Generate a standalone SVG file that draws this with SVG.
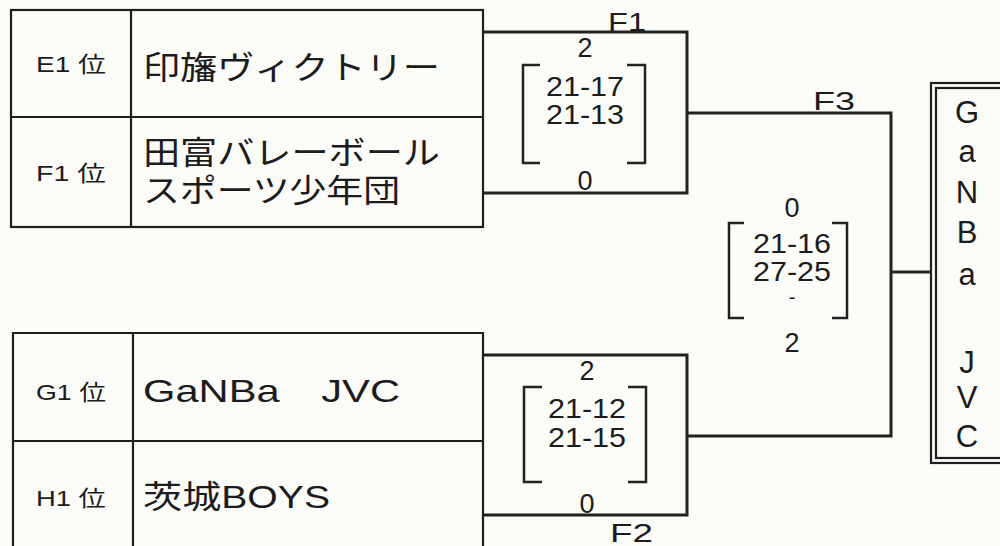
<svg xmlns="http://www.w3.org/2000/svg" width="1000" height="546" viewBox="0 0 1000 546">
<style>
.bg{fill:#fbfbf8}
.tb{fill:none;stroke:#1e1e1e;stroke-width:2.2}
.ln{fill:none;stroke:#1e2420;stroke-width:3}
.br{fill:none;stroke:#222;stroke-width:2.5}
text{font-family:"Liberation Sans","Noto Sans CJK JP",sans-serif;fill:#1c1c1c}
.rk{font-size:22px}
.tm{font-size:32px}
.sc{font-size:27px;text-anchor:middle}
.dash{font-size:20px;text-anchor:middle}
.lb{font-size:26px}
.wn{font-size:31px;text-anchor:middle}
</style>
<rect class="bg" x="0" y="0" width="1000" height="546"/>
<g id="table-top">
<rect class="tb" x="11" y="10" width="472" height="217"/>
<line class="tb" x1="11" y1="117" x2="483" y2="117"/>
<line class="tb" x1="131" y1="10" x2="131" y2="227"/>
<text class="rk" x="36" y="72" textLength="70" lengthAdjust="spacingAndGlyphs">E1 位</text>
<text class="tm" x="143" y="79" textLength="297" lengthAdjust="spacingAndGlyphs">印旛ヴィクトリー</text>
<text class="rk" x="36" y="181" textLength="70" lengthAdjust="spacingAndGlyphs">F1 位</text>
<text class="tm" x="143" y="164" textLength="297" lengthAdjust="spacingAndGlyphs">田富バレーボール</text>
<text class="tm" x="143" y="202" textLength="257" lengthAdjust="spacingAndGlyphs">スポーツ少年団</text>
</g>
<g id="table-bottom">
<path class="tb" d="M13 546 V333 H483 V546"/>
<line class="tb" x1="13" y1="441" x2="483" y2="441"/>
<line class="tb" x1="133" y1="333" x2="133" y2="546"/>
<text class="rk" x="36" y="400" textLength="70" lengthAdjust="spacingAndGlyphs">G1 位</text>
<text class="tm" x="143" y="402" textLength="257" lengthAdjust="spacingAndGlyphs">GaNBa　JVC</text>
<text class="rk" x="36" y="506" textLength="70" lengthAdjust="spacingAndGlyphs">H1 位</text>
<text class="tm" x="143" y="508" textLength="187" lengthAdjust="spacingAndGlyphs">茨城BOYS</text>
</g>
<g id="connectors">
<path class="ln" d="M483 32 H687 V193 H483"/>
<path class="ln" d="M483 355 H687 V515 H483"/>
<path class="ln" d="M687 113 H891 V436 H687"/>
<path class="ln" d="M891 272 H931"/>
</g>
<g id="match-f1">
<text class="lb" x="608" y="31" textLength="38" lengthAdjust="spacingAndGlyphs">F1</text>
<text class="sc" x="585" y="57">2</text>
<path class="br" d="M540 65 H523 V163 H540"/>
<path class="br" d="M627 65 H645 V163 H627"/>
<text class="sc" x="585" y="96" textLength="78" lengthAdjust="spacingAndGlyphs">21-17</text>
<text class="sc" x="585" y="124" textLength="78" lengthAdjust="spacingAndGlyphs">21-13</text>
<text class="sc" x="585" y="190">0</text>
</g>
<g id="match-f2">
<text class="sc" x="587" y="380">2</text>
<path class="br" d="M542 387 H524 V482 H542"/>
<path class="br" d="M628 387 H646 V482 H628"/>
<text class="sc" x="587" y="418" textLength="78" lengthAdjust="spacingAndGlyphs">21-12</text>
<text class="sc" x="587" y="447" textLength="78" lengthAdjust="spacingAndGlyphs">21-15</text>
<text class="sc" x="587" y="513">0</text>
<text class="lb" x="610" y="542" textLength="43" lengthAdjust="spacingAndGlyphs">F2</text>
</g>
<g id="match-f3">
<text class="lb" x="813" y="110" textLength="42" lengthAdjust="spacingAndGlyphs">F3</text>
<text class="sc" x="792" y="217">0</text>
<path class="br" d="M744 223 H729 V318 H744"/>
<path class="br" d="M832 223 H847 V318 H832"/>
<text class="sc" x="792" y="253" textLength="78" lengthAdjust="spacingAndGlyphs">21-16</text>
<text class="sc" x="792" y="281" textLength="78" lengthAdjust="spacingAndGlyphs">27-25</text>
<text class="dash" x="792" y="304">-</text>
<text class="sc" x="792" y="352">2</text>
</g>
<g id="winner">
<rect class="tb" x="931" y="83" width="80" height="380"/>
<rect class="tb" x="936" y="88" width="80" height="370"/>
<text class="wn" x="967" y="123">G</text>
<text class="wn" x="967" y="162">a</text>
<text class="wn" x="967" y="203">N</text>
<text class="wn" x="967" y="243">B</text>
<text class="wn" x="967" y="285">a</text>
<text class="wn" x="967" y="373">J</text>
<text class="wn" x="967" y="408">V</text>
<text class="wn" x="967" y="447">C</text>
</g>
</svg>
